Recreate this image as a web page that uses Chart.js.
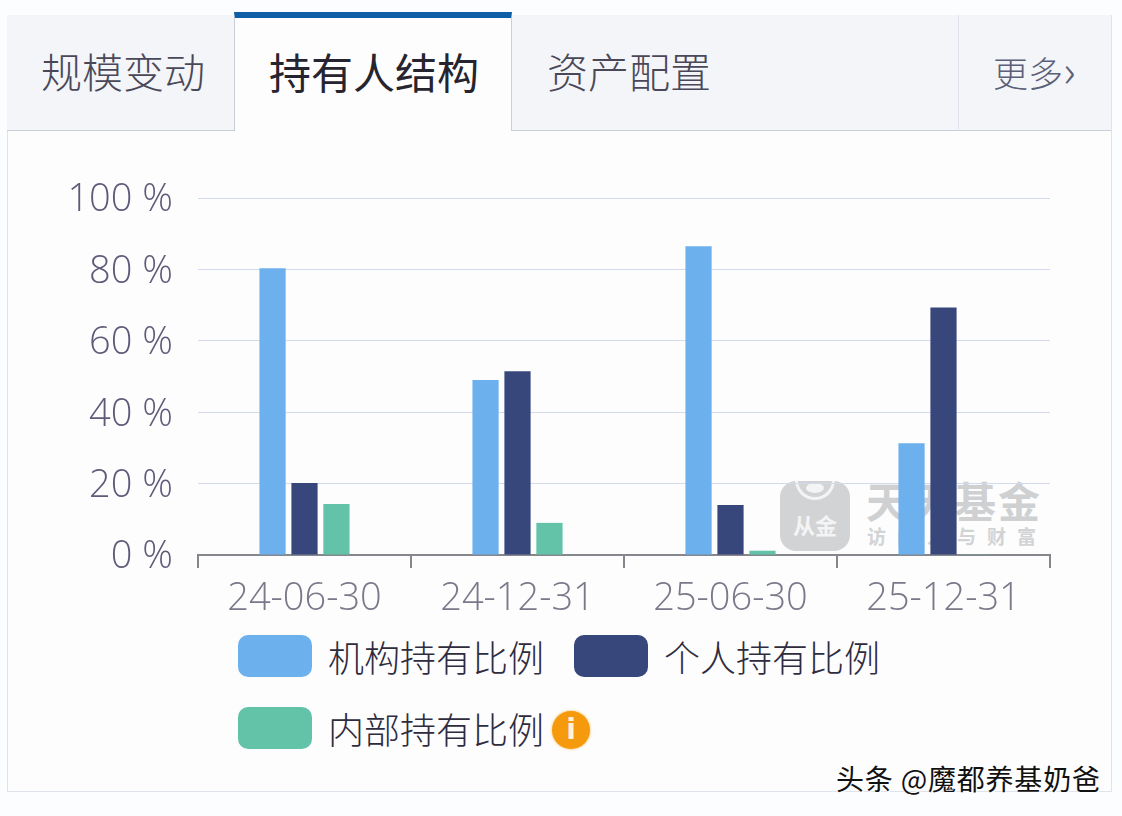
<!DOCTYPE html>
<html lang="zh">
<head>
<meta charset="utf-8">
<title>持有人结构</title>
<script src="https://cdn.jsdelivr.net/npm/chart.js@4"></script>
<style>
  html, body { margin: 0; padding: 0; background: #fcfdfe; }
  body { width: 1122px; height: 816px; position: relative; overflow: hidden;
    font-family: "Noto Sans CJK SC", "Noto Sans", sans-serif; font-weight: 300; }
  .card { position: absolute; left: 7px; top: 15px; width: 1103px; height: 775px;
    border: 1px solid #dfe4ec; background: #fdfdfe; }
  .tab { position: absolute; top: 15px; height: 116px; line-height: 110px; box-sizing: border-box;
    background: #f3f5f9; border-bottom: 1px solid #c9ced8; color: #4a4858; font-size: 41px; }
  .tab.active { z-index: 2; top: 12px; height: 119px; line-height: 105px; background: #fdfdfe; color: #26242e;
    font-size: 42px; font-weight: 400; border-top: 6px solid #0f5fa8; border-bottom: 0;
    border-left: 1px solid #c9ced8; border-right: 1px solid #c9ced8; }
  .tab.more { font-size: 35px; color: #5b5f78; line-height: 106px; border-left: 1px solid #dfe4ec; }
  #chart-box { position: absolute; left: 0; top: 140px; width: 1122px; height: 490px; }
  .legend-item { position: absolute; height: 42px; display: flex; align-items: center;
    font-size: 36px; color: #2e2c3e; white-space: nowrap; }
  .legend-item i { display: block; width: 74px; height: 42px; border-radius: 10px; margin-right: 16px; }
  .info { position: absolute; left: 552px; top: 711px; width: 38px; height: 38px; border-radius: 50%;
    background: #f59a0c; box-shadow: 0 0 3px #f7b64f; color: #fff3d8;
    font: bold 28px/38px "DejaVu Sans", sans-serif; text-align: center; }
  .wm-icon { position: absolute; left: 780px; top: 481px; width: 70px; height: 70px; border-radius: 16px;
    background: #d2d3d5; color: #f4f4f4; font-size: 22px; font-weight: 700; text-align: center; line-height: 86px; overflow: hidden; }
  .wm-bib { position: absolute; left: 15px; top: -6px; width: 34px; height: 22px; border: 3px solid #f4f4f4;
    border-top: 0; border-radius: 0 0 20px 20px; }
  .wm-dot { position: absolute; left: 26px; top: 2px; width: 18px; height: 10px; border-radius: 50%; background: #f4f4f4; }
  .wm-title { position: absolute; left: 866px; top: 469px; font-size: 42px; font-weight: 700; color: #cfd0d2;
    letter-spacing: 2px; white-space: nowrap; }
  .wm-sub { position: absolute; left: 867px; top: 522px; font-size: 19px; font-weight: 700; color: #d2d3d5;
    letter-spacing: 11px; white-space: nowrap; }
  .credit { position: absolute; left: 836px; top: 759px; font-size: 28px; line-height: 38px; font-weight: 400;
    letter-spacing: 0.8px; color: #111; white-space: nowrap; text-shadow: 1px 1px 0 #fff, -1px -1px 0 #fff; }
</style>
</head>
<body>
<div class="card"></div>
<div class="tab" style="left:7px;width:228px;padding-left:34px">规模变动</div>
<div class="tab active" style="left:234px;width:278px;padding-left:34px">持有人结构</div>
<div class="tab" style="left:511px;width:448px;padding-left:36px">资产配置</div>
<div class="tab more" style="left:958px;width:153px;padding-left:34px">更多<span style="font-size:44px;font-weight:200">›</span></div>

<div class="wm-icon"><span class="wm-bib"></span><span class="wm-dot"></span>从金</div>
<div class="wm-title">天天基金</div>
<div class="wm-sub">访问人与财富</div>

<div id="chart-box"><canvas id="holderChart"></canvas></div>
<div id="legend"></div>
<div class="info">i</div>
<div class="credit">头条 @魔都养基奶爸</div>

<script>
const categories = ['24-06-30', '24-12-31', '25-06-30', '25-12-31'];
const institutionValues = [80.3, 49, 86.5, 31.3];
const personalValues = [20.2, 51.5, 14, 69.3];
const insiderValues = [14.3, 9, 1.2, 0.2];
const seriesNames = ['机构持有比例', '个人持有比例', '内部持有比例'];
const seriesColors = ['#6db0ee', '#37477c', '#62c3a8'];

const legendSpots = [[238, 635], [574, 635], [238, 707]];
const tickFont = { size: 38, family: '"Open Sans", sans-serif', weight: 300 };

const chart = new Chart(document.getElementById('holderChart'), {
  type: 'bar',
  data: {
    labels: categories,
    datasets: [institutionValues, personalValues, insiderValues].map((data, i) => ({
      label: seriesNames[i],
      data,
      backgroundColor: seriesColors[i],
      categoryPercentage: 0.45,
      barPercentage: 0.82
    }))
  },
  options: {
    responsive: true,
    maintainAspectRatio: false,
    animation: false,
    layout: { padding: { top: 58, right: 72, left: 0, bottom: 0 } },
    plugins: { legend: { display: false }, tooltip: { enabled: false } },
    scales: {
      x: {
        afterFit: scale => { scale.height = 75; },
        border: { color: '#85878c', width: 2 },
        grid: { drawOnChartArea: false, color: '#85878c', tickLength: 13, lineWidth: 2 },
        ticks: { color: '#7b7889', padding: 8, maxRotation: 0, font: tickFont }
      },
      y: {
        min: 0,
        max: 100,
        afterFit: scale => { scale.width = 198; },
        border: { display: false },
        grid: { color: '#d4daed', drawTicks: false, lineWidth: 1 },
        ticks: { stepSize: 20, color: '#5e5a78', padding: 25, labelOffset: 2.5, callback: v => v + ' %', font: tickFont }
      }
    }
  }
});

// legend sits in two rows under the chart, so it is plain html
const legend = document.getElementById('legend');
chart.data.datasets.forEach((ds, i) => {
  const item = document.createElement('div');
  item.className = 'legend-item';
  item.style.left = legendSpots[i][0] + 'px';
  item.style.top = legendSpots[i][1] + 'px';
  item.innerHTML = `<i style="background:${ds.backgroundColor}"></i>${ds.label}`;
  legend.appendChild(item);
});
</script>
</body>
</html>
